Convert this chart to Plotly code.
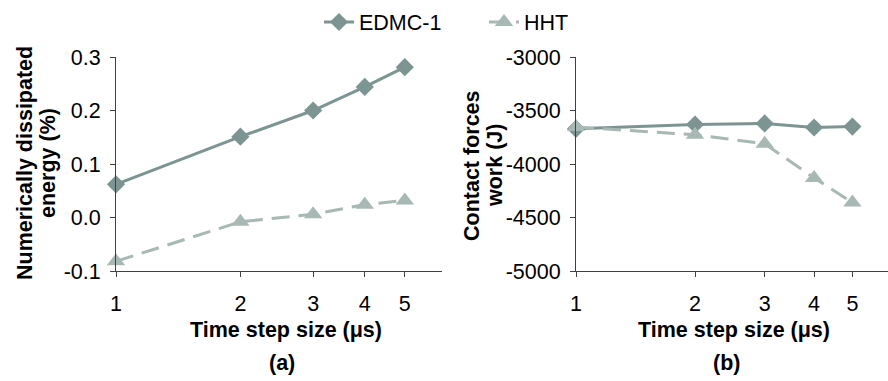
import plotly.graph_objects as go

# ---- data ----
time_step = [1, 2, 3, 4, 5]
tick_labels = ["1", "2", "3", "4", "5"]
energy_edmc = [0.062, 0.151, 0.200, 0.244, 0.281]
energy_hht = [-0.082, -0.008, 0.006, 0.024, 0.032]
work_edmc = [-3671, -3631, -3621, -3659, -3650]
work_hht = [-3655, -3727, -3811, -4130, -4360]
series_names = ["EDMC-1", "HHT"]
energy_ticks = [-0.1, 0.0, 0.1, 0.2, 0.3]
energy_tick_labels = ["-0.1", "0.0", "0.1", "0.2", "0.3"]
work_ticks = [-5000, -4500, -4000, -3500, -3000]
work_tick_labels = ["-5000", "-4500", "-4000", "-3500", "-3000"]

W, H = 888, 381
C_EDMC = "#7c9593"
C_HHT = "#a7b8b5"
FONT = "Liberation Sans, Arial, sans-serif"
FS = 21.5
AX = "#404040"

fig = go.Figure()

def add(x, y, xa, ya, name, color, dash, symbol, msize, show):
    fig.add_trace(go.Scatter(
        x=x, y=y, xaxis=xa, yaxis=ya, name=name, mode="lines+markers",
        line=dict(color=color, width=3, dash=dash),
        marker=dict(symbol=symbol, size=msize, color=color),
        cliponaxis=False, showlegend=show, legendgroup=name))

add(time_step, energy_edmc, "x", "y", series_names[0], C_EDMC, "solid", "diamond", 14, True)
add(time_step, energy_hht, "x", "y", series_names[1], C_HHT, "18px,9px", "triangle-up", 16, True)
add(time_step, work_edmc, "x2", "y2", series_names[0], C_EDMC, "solid", "diamond", 14, False)
add(time_step, work_hht, "x2", "y2", series_names[1], C_HHT, "18px,9px", "triangle-up", 16, False)

xcommon = dict(type="log", tickvals=time_step, ticktext=tick_labels, showgrid=False,
               showline=True, linecolor=AX, linewidth=1, ticks="outside", ticklen=5,
               tickcolor=AX, tickfont=dict(size=FS, color="#000", family=FONT),
               ticklabelstandoff=8, zeroline=False, range=[0, 0.789])
ycommon = dict(showgrid=False, showline=True, linecolor=AX, linewidth=1, ticks="outside",
               ticklen=5, tickcolor=AX, tickfont=dict(size=FS, color="#000", family=FONT),
               zeroline=False, ticklabelstandoff=5)

y0 = (H - 271) / H
y1 = (H - 57) / H
fig.update_layout(
    width=W, height=H, margin=dict(l=0, r=0, t=0, b=0, autoexpand=False),
    paper_bgcolor="white", plot_bgcolor="white",
    font=dict(family=FONT, size=FS, color="#000"),
    xaxis=dict(domain=[116 / W, 442 / W], anchor="y", **xcommon),
    yaxis=dict(domain=[y0, y1], anchor="x", range=[-0.1, 0.3], tickvals=energy_ticks,
               ticktext=energy_tick_labels, **ycommon),
    xaxis2=dict(domain=[576 / W, 888 / W], anchor="y2", **xcommon),
    yaxis2=dict(domain=[y0, y1], anchor="x2", range=[-5000, -3000],
                tickvals=work_ticks, ticktext=work_tick_labels, **ycommon),
    legend=dict(orientation="h", x=319 / W, xanchor="left", y=(H - 22) / H, yanchor="middle",
                font=dict(size=FS, family=FONT, color="#000"), entrywidth=120,
                bgcolor="rgba(0,0,0,0)", itemwidth=30),
    showlegend=True,
)

def ann(text, x, y, angle=0):
    fig.add_annotation(text=text, x=x / W, y=(H - y) / H, xref="paper", yref="paper",
                       showarrow=False, textangle=angle, xanchor="center", yanchor="middle",
                       font=dict(size=FS, family=FONT, color="#000"))

ann("<b>Numerically dissipated</b>", 25, 163, -90)
ann("<b>energy (%)</b>", 48, 163, -90)
ann("<b>Contact forces</b>", 472, 166, -90)
ann("<b>work (J)</b>", 495, 166, -90)
ann("<b>Time step size (μs)</b>", 286, 330)
ann("<b>Time step size (μs)</b>", 734, 330)
ann("<b>(a)</b>", 282, 363)
ann("<b>(b)</b>", 726, 363)

fig.write_html("out.html", config={"displayModeBar": False},
               post_script="document.body.style.margin='0';document.body.style.overflow='hidden';")
